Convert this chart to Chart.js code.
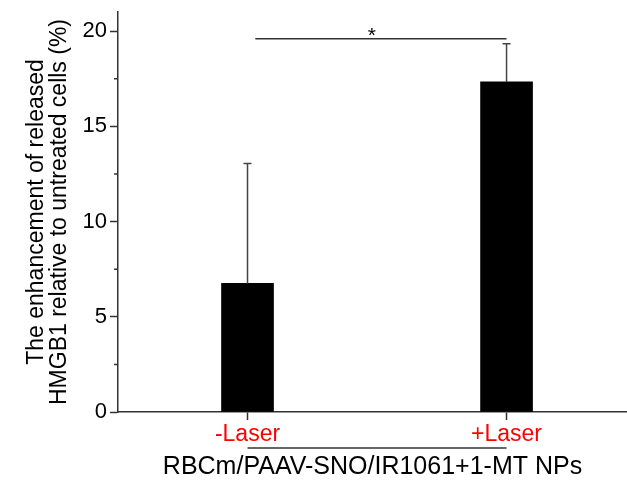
<!DOCTYPE html>
<html>
<head>
<meta charset="utf-8">
<script src="https://cdn.jsdelivr.net/npm/chart.js@4.4.0/dist/chart.umd.min.js"></script>
<style>
  html, body { margin: 0; padding: 0; background: #fff; }
  #wrap { width: 627px; height: 486px; position: relative; }
</style>
</head>
<body>
<div id="wrap"><canvas id="bar-chart"></canvas></div>
<script>
// chart values
const categories = ["-Laser", "+Laser"];
const means = [6.75, 17.33];
const errUp = [6.3, 2.0];           // only the upper error bar is drawn
const yTicks = [0, 5, 10, 15, 20];
const yTitle = ["The enhancement of released", "HMGB1 relative to untreated cells (%)"];
const xTitle = "RBCm/PAAV-SNO/IR1061+1-MT NPs";
// significance bracket between the two groups
const sig = { from: 1.03, to: 2, y: 19.6, label: "*", starX: 1.48 };

const FONT = "'Liberation Sans', Arial, sans-serif";
const AXIS = "#333";

// error bars, bracket, minor ticks and group underline
const extras = {
  id: "extras",
  afterDatasetsDraw(chart) {
    const { ctx, chartArea } = chart;
    const x = chart.scales.x, y = chart.scales.y;
    ctx.save();

    // error bars
    ctx.strokeStyle = "#444";
    ctx.lineWidth = 1.5;
    means.forEach((m, i) => {
      const px = x.getPixelForValue(i + 1);
      const top = y.getPixelForValue(m + errUp[i]);
      ctx.beginPath();
      ctx.moveTo(px, y.getPixelForValue(m));
      ctx.lineTo(px, top);
      ctx.moveTo(px - 4, top);
      ctx.lineTo(px + 4, top);
      ctx.stroke();
    });

    // significance bracket
    const by = y.getPixelForValue(sig.y);
    ctx.strokeStyle = AXIS;
    ctx.beginPath();
    ctx.moveTo(x.getPixelForValue(sig.from), by);
    ctx.lineTo(x.getPixelForValue(sig.to), by);
    ctx.stroke();
    ctx.fillStyle = "#000";
    ctx.font = "21px " + FONT;
    ctx.textAlign = "center";
    ctx.textBaseline = "alphabetic";
    ctx.fillText(sig.label, x.getPixelForValue(sig.starX), by + 3);

    // minor ticks on y
    ctx.beginPath();
    for (let v = 2.5; v < 20; v += 5) {
      const py = y.getPixelForValue(v);
      ctx.moveTo(chartArea.left - 4, py);
      ctx.lineTo(chartArea.left, py);
    }
    ctx.stroke();

    // line under the group labels
    const uy = chartArea.bottom + 36;
    ctx.beginPath();
    ctx.moveTo(x.getPixelForValue(1), uy);
    ctx.lineTo(x.getPixelForValue(2), uy);
    ctx.stroke();
    ctx.restore();
  }
};

new Chart(document.getElementById("bar-chart"), {
  type: "bar",
  data: {
    datasets: [{
      data: categories.map((c, i) => ({ x: i + 1, y: means[i] })),
      backgroundColor: "#000",
      borderWidth: 0,
      barThickness: 52
    }]
  },
  options: {
    responsive: true,
    maintainAspectRatio: false,
    animation: false,
    layout: { padding: { top: 12, right: 0, bottom: 0, left: 0 } },
    plugins: { legend: { display: false }, tooltip: { enabled: false } },
    scales: {
      x: {
        type: "linear",
        offset: false,
        min: 0.5,
        max: 2.465,
        afterBuildTicks: (s) => { s.ticks = categories.map((c, i) => ({ value: i + 1 })); },
        afterFit: (s) => { s.height = 74; s.paddingLeft = 0; s.paddingRight = 0; },
        ticks: {
          callback: (v) => categories[v - 1],
          color: "#ff0000",
          font: { family: FONT, size: 23 },
          padding: 1,
          maxRotation: 0
        },
        grid: { offset: false, drawOnChartArea: false, tickLength: 8, tickColor: AXIS, tickWidth: 1.5 },
        border: { color: AXIS, width: 1.5 },
        title: {
          display: true,
          text: xTitle,
          color: "#000",
          font: { family: FONT, size: 25, lineHeight: 1.2 },
          padding: { top: 0, bottom: 4 }
        }
      },
      y: {
        min: 0,
        max: 21,
        afterBuildTicks: (s) => { s.ticks = yTicks.map((v) => ({ value: v })); },
        afterFit: (s) => { s.width = 118; s.paddingTop = 0; s.paddingBottom = 0; },
        ticks: {
          color: "#000",
          font: { family: FONT, size: 22 },
          padding: 3
        },
        grid: { drawOnChartArea: false, tickLength: 8, tickColor: AXIS, tickWidth: 1.5 },
        border: { color: AXIS, width: 1.5 },
        title: {
          display: true,
          text: yTitle,
          color: "#000",
          font: { family: FONT, size: 23, lineHeight: 1.0 },
          padding: { top: 25, bottom: 0 }
        }
      }
    }
  },
  plugins: [extras]
});
</script>
</body>
</html>
